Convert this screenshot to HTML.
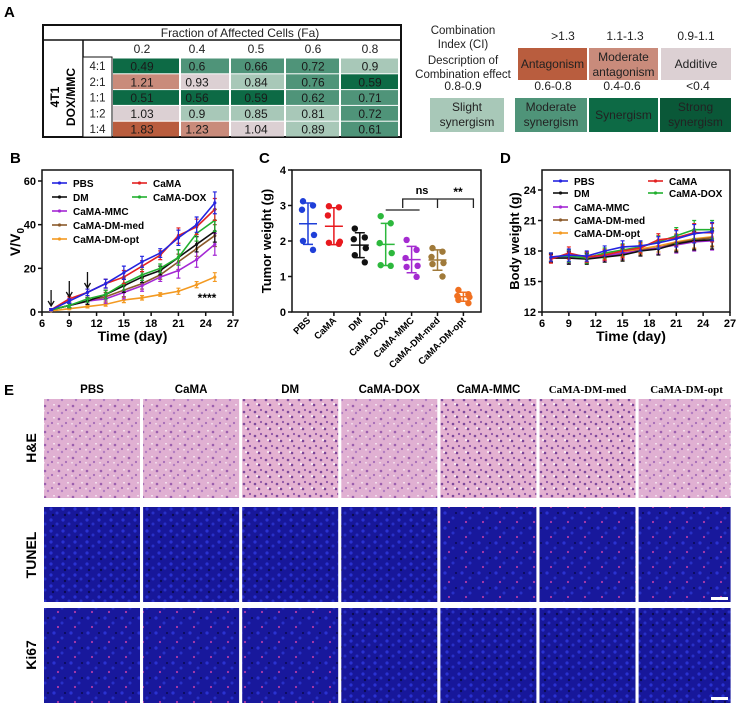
<!DOCTYPE html>
<html><head><meta charset="utf-8">
<style>
html,body{margin:0;padding:0;background:#fff;}
svg{display:block;font-family:"Liberation Sans",Arial,sans-serif;}
</style></head>
<body>
<svg id="fig" width="741" height="710" viewBox="0 0 741 710" xmlns="http://www.w3.org/2000/svg">
<defs>
<pattern id="he" width="14" height="13" patternUnits="userSpaceOnUse">
<rect width="14" height="13" fill="#e0b0d2"/>
<circle cx="3" cy="3" r="1.3" fill="#9b5fae"/><circle cx="10" cy="7" r="1.1" fill="#a56bb8"/>
<circle cx="6" cy="10" r="1.2" fill="#b27cc2"/><rect x="11" y="1" width="2" height="1.5" fill="#f4e0ee"/>
<rect x="1" y="7" width="2" height="1.5" fill="#f1d8ea"/>
</pattern>
<pattern id="he2" width="11" height="12" patternUnits="userSpaceOnUse">
<rect width="11" height="12" fill="#e4b1d1"/>
<circle cx="2" cy="4" r="1.3" fill="#7f4a9c"/><circle cx="8" cy="2" r="1.1" fill="#8e54a6"/>
<circle cx="6" cy="9" r="1.3" fill="#7a4598"/><rect x="3" y="7" width="2" height="2" fill="#f6e6f0"/>
</pattern>
<pattern id="tu" width="12" height="11" patternUnits="userSpaceOnUse">
<rect width="12" height="11" fill="#17179a"/>
<circle cx="3" cy="3" r="1.6" fill="#2a32d2"/><circle cx="9" cy="7" r="1.5" fill="#2830c8"/>
<circle cx="5" cy="9" r="1.2" fill="#0b0b50"/>
</pattern>
<pattern id="tuR" width="17" height="15" patternUnits="userSpaceOnUse">
<rect width="17" height="15" fill="#18189c"/>
<circle cx="3" cy="3" r="1.6" fill="#2a32d2"/><circle cx="11" cy="8" r="1.5" fill="#2830c8"/>
<circle cx="7" cy="12" r="1.1" fill="#b03aa8"/><circle cx="14" cy="3" r="1" fill="#0b0b50"/>
</pattern>
</defs>
</svg>
<script>
// ---------- Panel A data ----------
const faLabels = ['0.2','0.4','0.5','0.6','0.8'];
const ratioLabels = ['4:1','2:1','1:1','1:2','1:4'];
const ciRow1 = [0.49,0.6,0.66,0.72,0.9];
const ciRow2 = [1.21,0.93,0.84,0.76,0.59];
const ciRow3 = [0.51,0.56,0.59,0.62,0.71];
const ciRow4 = [1.03,0.9,0.85,0.81,0.72];
const ciRow5 = [1.83,1.23,1.04,0.89,0.61];
// ---------- Panel B data ----------
const daysB = [7,9,11,13,15,17,19,21,23,25];
const vPBS  = [1,5,9,13,18,23,27,34,40,50];
const vCaMA = [1,6,9,13,16,21,26,35,39,47];
const vDM   = [1,3,5,8,12,16,19,25,31,37];
const vDOX  = [1,3,6,8,13,17,20,25,36,42];
const vMMC  = [1,3,5,6,9,12,16,19,24,31];
const vMed  = [1,3,5,7,10,13,17,23,29,35];
const vOpt  = [0.5,1.5,2.5,3.5,5.5,6.5,8,9.5,12.5,16];
const eB    = [0.5,1,1.5,2,3,2.5,2,3.5,3.5,5];
const bTicksX = [6,9,12,15,18,21,24,27];
const bTicksY = [0,20,40,60];
// ---------- Panel C data ----------
const cGroups = ['PBS','CaMA','DM','CaMA-DOX','CaMA-MMC','CaMA-DM-med','CaMA-DM-opt'];
const wPBS  = [3.12,3.0,2.88,2.17,2.0,1.75];
const wCaMA = [2.98,2.95,2.72,1.98,1.95,1.92];
const wDM   = [2.35,2.1,2.05,1.8,1.6,1.4];
const wDOX  = [2.7,2.5,1.94,1.66,1.32,1.3];
const wMMC  = [2.03,1.75,1.52,1.3,1.27,0.99];
const wMed  = [1.8,1.7,1.55,1.38,1.35,1.0];
const wOpt  = [0.62,0.5,0.45,0.42,0.34,0.25];
const cTicksY = [0,1,2,3,4];
// ---------- Panel D data ----------
const daysD = [7,9,11,13,15,17,19,21,23,25];
const bwPBS  = [17.4,17.6,17.5,18.0,18.4,18.5,18.8,19.2,19.7,19.9];
const bwCaMA = [17.2,17.8,17.4,17.6,18.0,18.3,19.1,19.3,19.8,19.8];
const bwDM   = [17.3,17.3,17.2,17.4,17.6,18.0,18.2,18.7,19.0,19.1];
const bwDOX  = [17.4,17.5,17.3,17.8,18.1,18.4,18.9,19.5,20.1,20.1];
const bwMMC  = [17.3,17.4,17.3,17.5,17.8,18.0,18.3,18.6,18.9,19.0];
const bwMed  = [17.3,17.4,17.3,17.6,17.7,18.1,18.3,18.8,19.1,19.3];
const bwOpt  = [17.4,17.5,17.4,17.7,17.9,18.2,18.5,18.9,19.2,19.4];
const eD     = [0.4,0.6,0.5,0.5,0.6,0.5,0.6,0.8,0.9,0.9];
const dTicksX = [6,9,12,15,18,21,24,27];
const dTicksY = [12,15,18,21,24];
// ---------- Panel E ----------
const eCols = ['PBS','CaMA','DM','CaMA-DOX','CaMA-MMC','CaMA-DM-med','CaMA-DM-opt'];
const eRows = ['H&E','TUNEL','Ki67'];

const NS='http://www.w3.org/2000/svg';
const svg=document.getElementById('fig');
function mk(tag,attrs,parent){const e=document.createElementNS(NS,tag);for(const k in attrs)e.setAttribute(k,attrs[k]);(parent||svg).appendChild(e);return e;}
function txt(x,y,s,attrs,parent){const t=mk('text',Object.assign({x:x,y:y},attrs||{}),parent);t.textContent=s;return t;}
function grp(name){const g=mk('g',{});return g;}

// ================= Panel A =================
let pl=txt(4,17,'A',{'font-size':15,'font-weight':'bold'});

const gA=grp('ci-table');
const colX=[112,180,230,285,340,399];
const colC=[142,197,256,313,370];
const rowY=[58,73.8,89.6,105.4,121.2,137];
function ciColor(v){if(v>1.3)return '#b95d3e';if(v>1.1)return '#c98b7b';if(v>0.9)return '#dcd0d3';if(v>=0.8)return '#a8c8b8';if(v>=0.6)return '#4f9479';if(v>=0.4)return '#0d6a45';return '#0a5838';}
const ciRows=[ciRow1,ciRow2,ciRow3,ciRow4,ciRow5];
let r=mk('rect',{x:43,y:25,width:358,height:112,fill:'#fff',stroke:'#111','stroke-width':2},gA);

mk('line',{x1:43,y1:40,x2:401,y2:40,stroke:'#111','stroke-width':1.5},gA);
mk('line',{x1:83,y1:40,x2:83,y2:137,stroke:'#111','stroke-width':1.5},gA);
mk('rect',{x:83,y:57,width:29,height:80,fill:'#fff',stroke:'#111','stroke-width':1},gA);
let tt=txt(240,37,'Fraction of Affected Cells (Fa)',{'font-size':12,'text-anchor':'middle',fill:'#222'},gA);

faLabels.forEach((s,i)=>{const t=txt(colC[i],53,s,{'font-size':12,'text-anchor':'middle',fill:'#222'},gA);
});
ratioLabels.forEach((s,j)=>{const t=txt(97.5,rowY[j]+12,s,{'font-size':11.5,'text-anchor':'middle',fill:'#222'},gA);
});
ciRows.forEach((row,j)=>{row.forEach((v,i)=>{
 const c=mk('rect',{x:colX[i]+1,y:rowY[j]+0.5,width:colX[i+1]-colX[i]-2,height:rowY[j+1]-rowY[j]-1,fill:ciColor(v)},gA);
 
 const t=txt(colC[i],rowY[j]+12.5,String(v),{'font-size':12,'text-anchor':'middle',fill:'#1a1a1a'},gA);
 
});});
let v1=txt(0,0,'4T1',{'font-size':12,'font-weight':'bold','text-anchor':'middle',transform:'translate(59,97) rotate(-90)'},gA);

let v2=txt(0,0,'DOX/MMC',{'font-size':12,'font-weight':'bold','text-anchor':'middle',transform:'translate(75,97) rotate(-90)'},gA);


// CI legend
const gL=grp('ci-legend');
[['Combination',34],['Index (CI)',48],['Description of',64],['Combination effect',78]].forEach(a=>{
 const t=txt(463,a[1],a[0],{'font-size':11.5,'text-anchor':'middle',fill:'#222'},gL);
 });
const legBoxes=[
 [518,48,69,32,'#b95d3e',['Antagonism'],'>1.3',563],
 [589,48,69,32,'#c98b7b',['Moderate','antagonism'],'1.1-1.3',625],
 [661,48,70,32,'#dcd0d3',['Additive'],'0.9-1.1',696],
 [430,98,74,34,'#a8c8b8',['Slight','synergism'],'0.8-0.9',463],
 [515,98,72,34,'#4f9479',['Moderate','synergism'],'0.6-0.8',553],
 [589,98,69,34,'#0d6a45',['Synergism'],'0.4-0.6',622],
 [660,98,71,34,'#0a5838',['Strong','synergism'],'<0.4',698]];
legBoxes.forEach(b=>{
 const rr=mk('rect',{x:b[0],y:b[1],width:b[2],height:b[3],fill:b[4]},gL);
 
 const cx=b[0]+b[2]/2;
 if(b[5].length===1){const t=txt(cx,b[1]+b[3]/2+4,b[5][0],{'font-size':12,'text-anchor':'middle',fill:'#222'},gL);}
 else{b[5].forEach((s,k)=>{const t=txt(cx,b[1]+13+k*15,s,{'font-size':12,'text-anchor':'middle',fill:'#222'},gL);});}
 const rt=txt(b[7],b[1]-8,b[6],{'font-size':12,'text-anchor':'middle',fill:'#222'},gL);
 
});

// ================= generic line panel =================
const seriesColors={PBS:'#2424e0',CaMA:'#e32222',DM:'#111',DOX:'#22b030',MMC:'#a428d4',Med:'#8b5a2b',Opt:'#f39a22'};
function linePanel(opts){
 const g=grp(opts.name);
 const fr=mk('rect',{x:opts.x0,y:opts.yTop,width:opts.x1-opts.x0,height:opts.yBot-opts.yTop,fill:'none',stroke:'#111','stroke-width':1.5},g);
 
 opts.ticksX.forEach(d=>{const x=opts.fx(d);mk('line',{x1:x,y1:opts.yBot,x2:x,y2:opts.yBot+4,stroke:'#111','stroke-width':1.5},g);
  const t=txt(x,opts.yBot+15,String(d),{'font-size':11,'font-weight':'bold','text-anchor':'middle'},g);});
 opts.ticksY.forEach(v=>{const y=opts.fy(v);mk('line',{x1:opts.x0-4,y1:y,x2:opts.x0,y2:y,stroke:'#111','stroke-width':1.5},g);
  const t=txt(opts.x0-6,y+4,String(v),{'font-size':11,'font-weight':'bold','text-anchor':'end'},g);});
 const xt=txt((opts.x0+opts.x1)/2-5,341,'Time (day)',{'font-size':14,'font-weight':'bold','text-anchor':'middle'},g);
 
 opts.series.forEach(s=>{
  const sg=mk('g',{},g);
  const pts=s.vals.map((v,i)=>opts.fx(opts.days[i])+','+opts.fy(v)).join(' ');
  const pl=mk('polyline',{points:pts,fill:'none',stroke:seriesColors[s.key],'stroke-width':1.6},sg);
  
  s.vals.forEach((v,i)=>{const x=opts.fx(opts.days[i]);const e=opts.err[i]*(s.ef||1);
   const eb=mk('path',{d:`M${x},${opts.fy(v-e)}V${opts.fy(v+e)}M${x-2},${opts.fy(v+e)}h4M${x-2},${opts.fy(v-e)}h4`,stroke:seriesColors[s.key],'stroke-width':1.2,fill:'none'},sg);
   
   const p=mk('circle',{cx:x,cy:opts.fy(v),r:1.6,fill:seriesColors[s.key]},sg);
   });
 });
 opts.legend.forEach(l=>{
  const lg=mk('g',{},g);
  mk('line',{x1:l[0],y1:l[1],x2:l[0]+15,y2:l[1],stroke:seriesColors[l[2]],'stroke-width':1.6},lg);
  mk('circle',{cx:l[0]+7.5,cy:l[1],r:1.6,fill:seriesColors[l[2]]},lg);
  txt(l[0]+21,l[1]+4,l[3],{'font-size':10,'font-weight':'bold'},lg);
 });
 return g;
}

// ================= Panel B =================
pl=txt(10,163,'B',{'font-size':15,'font-weight':'bold'});
const fxB=d=>42+(d-6)*(191/21), fyB=v=>312-v*(131/60);
const gB=linePanel({name:'tumor-volume-chart',x0:42,x1:233,yTop:170,yBot:312,fx:fxB,fy:fyB,days:daysB,err:eB,ticksX:bTicksX,ticksY:bTicksY,
 series:[{key:'Opt',vals:vOpt,ef:0.4},{key:'Med',vals:vMed},{key:'MMC',vals:vMMC},{key:'DM',vals:vDM},{key:'DOX',vals:vDOX},{key:'CaMA',vals:vCaMA},{key:'PBS',vals:vPBS}],
 legend:[[52,183,'PBS','PBS'],[52,197,'DM','DM'],[52,211,'MMC','CaMA-MMC'],[52,225,'Med','CaMA-DM-med'],[52,239,'Opt','CaMA-DM-opt'],[132,183,'CaMA','CaMA'],[132,197,'DOX','CaMA-DOX']]});
let yb=txt(0,0,'V/V',{'font-size':14,'font-weight':'bold','text-anchor':'middle',transform:'translate(20,242) rotate(-90)'},gB);
const sub=mk('tspan',{'font-size':10,dy:4},yb);sub.textContent='0';

[7,9,11].forEach((d,i)=>{const x=fxB(d);const a=mk('path',{d:`M${x},${290-i*9}V${306-i*9}M${x-3},${301-i*9}L${x},${306-i*9}L${x+3},${301-i*9}`,stroke:'#111','stroke-width':1.3,fill:'none'},gB);
 });
let st=txt(207,302,'****',{'font-size':12,'font-weight':'bold','text-anchor':'middle'},gB);

// ================= Panel C =================
pl=txt(259,163,'C',{'font-size':15,'font-weight':'bold'});
const gC=grp('tumor-weight-chart');
const fxC=i=>308+i*25.9, fyC=v=>312-v*35.5;
let fc=mk('rect',{x:292,y:170,width:189,height:142,fill:'none',stroke:'#111','stroke-width':1.5},gC);

cTicksY.forEach(v=>{const y=fyC(v);mk('line',{x1:288,y1:y,x2:292,y2:y,stroke:'#111','stroke-width':1.5},gC);
 const t=txt(286,y+4,String(v),{'font-size':11,'font-weight':'bold','text-anchor':'end'},gC);});
const cData=[wPBS,wCaMA,wDM,wDOX,wMMC,wMed,wOpt];
const cCols=['#1f3fd8','#e8191e','#111','#2db83d','#a42bd0','#a07a3a','#f07020'];
cGroups.forEach((name,i)=>{const x=fxC(i);
 mk('line',{x1:x,y1:312,x2:x,y2:316,stroke:'#111','stroke-width':1.5},gC);
 const t=txt(0,0,name,{'font-size':9.5,'font-weight':'bold','text-anchor':'end',transform:`translate(${x+3},${321}) rotate(-45)`},gC);
 
 const vals=cData[i];const m=vals.reduce((a,b)=>a+b,0)/vals.length;
 const sd=Math.sqrt(vals.reduce((a,b)=>a+(b-m)*(b-m),0)/(vals.length-1));
 const sg=mk('g',{},gC);
 const ml=mk('path',{d:`M${x-9},${fyC(m)}h18M${x},${fyC(m-sd)}V${fyC(m+sd)}M${x-5},${fyC(m+sd)}h10M${x-5},${fyC(m-sd)}h10`,stroke:cCols[i],'stroke-width':1.5,fill:'none'},sg);
 
 vals.forEach((v,k)=>{const off=[-5,5,-6,6,-5,5][k];
  const c=mk('circle',{cx:x+off,cy:fyC(v),r:3.2,fill:cCols[i]},sg);
  });
});
let yc=txt(0,0,'Tumor weight (g)',{'font-size':13,'font-weight':'bold','text-anchor':'middle',transform:'translate(271,241) rotate(-90)'},gC);

let br=mk('path',{d:`M${fxC(3)},210H${fxC(4)+8}M${fxC(3)+17},208V199H${fxC(6)+10}V208M${fxC(5)},199V208`,stroke:'#222','stroke-width':1.3,fill:'none'},gC);

let ns=txt(422,194,'ns',{'font-size':11,'font-weight':'bold','text-anchor':'middle'},gC);
let ss=txt(458,196,'**',{'font-size':12,'font-weight':'bold','text-anchor':'middle'},gC);

// ================= Panel D =================
pl=txt(500,163,'D',{'font-size':15,'font-weight':'bold'});
const fxD=d=>542+(d-6)*(188/21), fyD=v=>312-(v-12)*(122/12);
const gD=linePanel({name:'body-weight-chart',x0:542,x1:730,yTop:170,yBot:312,fx:fxD,fy:fyD,days:daysD,err:eD,ticksX:dTicksX,ticksY:dTicksY,
 series:[{key:'Opt',vals:bwOpt},{key:'Med',vals:bwMed},{key:'MMC',vals:bwMMC},{key:'DM',vals:bwDM},{key:'DOX',vals:bwDOX},{key:'CaMA',vals:bwCaMA},{key:'PBS',vals:bwPBS}],
 legend:[[553,181,'PBS','PBS'],[553,193,'DM','DM'],[553,207,'MMC','CaMA-MMC'],[553,220,'Med','CaMA-DM-med'],[553,233,'Opt','CaMA-DM-opt'],[648,181,'CaMA','CaMA'],[648,193,'DOX','CaMA-DOX']]});
let yd=txt(0,0,'Body weight (g)',{'font-size':13,'font-weight':'bold','text-anchor':'middle',transform:'translate(519,241) rotate(-90)'},gD);


// ================= Panel E =================
pl=txt(4,395,'E',{'font-size':15,'font-weight':'bold'});
const gE=grp('histology-grid');
const rowTop=[399,507,608], rowH=[99,95,95];
const rowCenters=[448,555,655];
eCols.forEach((name,i)=>{const x=44+i*99.1;
 const serif=i>=5;
 const t=txt(x+48,393,name,{'font-size':serif?11:11.5,'font-weight':'bold','text-anchor':'middle','font-family':serif?'"Liberation Serif",serif':'"Liberation Sans",sans-serif'},gE);
 
 eRows.forEach((rn,j)=>{
  let fill;
  if(j===0) fill=(i===2||i===4||i===5)?'url(#he2)':'url(#he)';
  else if(j===1) fill=(i>=4)?'url(#tuR)':'url(#tu)';
  else fill=(i<=2)?'url(#tuR)':'url(#tu)';
  const im=mk('rect',{x:x,y:rowTop[j],width:i===6?92:96,height:rowH[j],fill:fill},gE);
  
  
 });
});
eRows.forEach((rn,j)=>{const t=txt(0,0,rn,{'font-size':14,'font-weight':'bold','text-anchor':'middle',transform:`translate(36,${rowCenters[j]}) rotate(-90)`},gE);
 });
let sb1=mk('rect',{x:711,y:597,width:17,height:3,fill:'#fff'},gE);
let sb2=mk('rect',{x:711,y:697,width:17,height:3,fill:'#fff'},gE);
</script>
</body></html>
